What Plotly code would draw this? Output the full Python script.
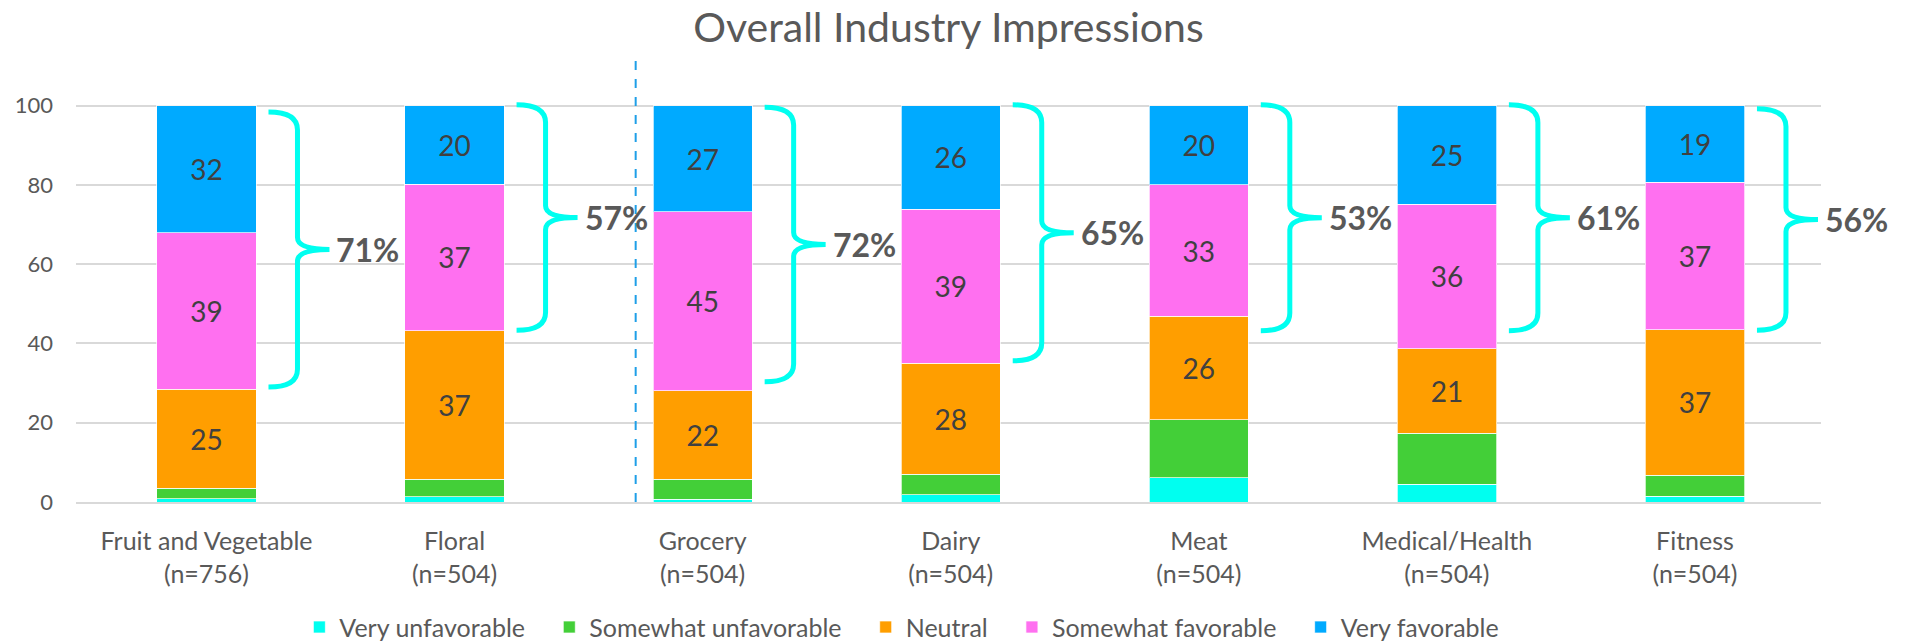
import plotly.graph_objects as go

# ---------------- data ----------------
categories = ["Fruit and Vegetable", "Floral", "Grocery", "Dairy", "Meat", "Medical/Health", "Fitness"]
sample_sizes = [756, 504, 504, 504, 504, 504, 504]

very_unfavorable = [0.8, 1.3, 0.7, 1.8, 6.1, 4.5, 1.5]
somewhat_unfavorable = [2.7, 4.5, 5.0, 5.2, 14.7, 12.8, 5.3]
neutral = [25.0, 37.4, 22.3, 28.0, 26.0, 21.4, 36.6]
somewhat_favorable = [39.4, 37.0, 45.2, 38.8, 33.2, 36.4, 37.3]
very_favorable = [32.1, 19.8, 26.8, 26.2, 20.0, 24.9, 19.3]

favorable_pct_labels = ["71%", "57%", "72%", "65%", "53%", "61%", "56%"]
bracket_high = [98.4, 100.2, 99.6, 100.2, 100.2, 100.2, 99.2]
bracket_low = [29.0, 43.3, 30.3, 35.6, 43.2, 43.2, 43.3]

y_ticks = [0, 20, 40, 60, 80, 100]

# ---------------- styling ----------------
FONT = "Lato"
TXT = "#595959"
GRID = "#D9D9D9"
BRACE = "#00FFF0"
PAD = "\u00a0\u00a0\u00a0"  # extra spacing between legend entries
X_RANGE = [-0.526, 6.508]

series = [
    ("Very unfavorable", very_unfavorable, "#00FFF0", False),
    ("Somewhat unfavorable", somewhat_unfavorable, "#43CF38", False),
    ("Neutral", neutral, "#FF9E00", True),
    ("Somewhat favorable", somewhat_favorable, "#FF70F0", True),
    ("Very favorable", very_favorable, "#00AAFF", True),
]

xs = list(range(len(categories)))
ticktext = [f"{c}<br>(n={n})" for c, n in zip(categories, sample_sizes)]

fig = go.Figure()
for name, vals, color, labelled in series:
    fig.add_trace(go.Bar(
        x=xs, y=vals, name=name + PAD, width=0.4,
        marker=dict(color=color, line=dict(color="rgba(255,255,255,0.7)", width=1)),
        texttemplate="%{y:.0f}" if labelled else "",
        textposition="inside" if labelled else "none",
        insidetextanchor="middle",
        textfont=dict(family=FONT, size=28, color="#404040"),
        hoverinfo="skip",
    ))

# curly brackets for favorable share
XPX = 248.1  # px per category unit (approx, for brace geometry)
shapes = []
annotations = []
for i, (lo, hi, lab) in enumerate(zip(bracket_low, bracket_high, favorable_pct_labels)):
    xa = i + 62 / XPX
    xv = i + 91 / XPX
    xt = i + 123 / XPX
    mid = (lo + hi) / 2
    r = 4.5
    r2 = 3.0
    path = (f"M {xa},{hi} Q {xv},{hi} {xv},{hi - r} L {xv},{mid + r2} "
            f"Q {xv},{mid} {xt},{mid} Q {xv},{mid} {xv},{mid - r2} "
            f"L {xv},{lo + r} Q {xv},{lo} {xa},{lo}")
    shapes.append(dict(type="path", path=path, xref="x", yref="y",
                       line=dict(color=BRACE, width=5), layer="above"))
    x_lab = i + 128 / XPX
    x_paper = (x_lab - X_RANGE[0]) / (X_RANGE[1] - X_RANGE[0])
    annotations.append(dict(x=x_paper, y=mid, xref="paper", yref="y", text=f"<b>{lab}</b>",
                            showarrow=False, xanchor="left", yanchor="middle",
                            font=dict(family=FONT, size=32, color=TXT)))

# dashed divider between Floral and Grocery
div_x = categories.index("Grocery") - 0.27
shapes.append(dict(type="line", x0=div_x, x1=div_x, y0=0, y1=112.7, xref="x", yref="y",
                   line=dict(color="#1E9FE8", width=2, dash="dash"), layer="above"))

fig.update_layout(
    width=1929, height=644,
    barmode="stack",
    plot_bgcolor="white", paper_bgcolor="white",
    margin=dict(l=76, r=108, t=54, b=142),
    font=dict(family=FONT, color=TXT),
    title=dict(text="Overall Industry Impressions", x=0.5, xref="paper", y=1 - 28 / 644,
               yref="container", xanchor="center", yanchor="middle",
               font=dict(family=FONT, size=41, color=TXT)),
    xaxis=dict(range=X_RANGE, tickvals=xs, ticktext=ticktext, showgrid=False,
               showline=True, linecolor=GRID, linewidth=2, ticks="", zeroline=False,
               tickfont=dict(family=FONT, size=25, color=TXT), ticklabelstandoff=16),
    yaxis=dict(range=[0, 113], tickvals=y_ticks, showgrid=True, gridcolor=GRID, gridwidth=2,
               zeroline=False, showline=False, ticks="",
               tickfont=dict(family=FONT, size=22, color=TXT), ticklabelstandoff=22),
    legend=dict(orientation="h", x=0.128, xanchor="left", y=0.026, yref="container",
                yanchor="middle", font=dict(family=FONT, size=25, color=TXT),
                traceorder="normal"),
    shapes=shapes,
    annotations=annotations,
    showlegend=True,
)

fig.write_html("out.html", config={"displayModeBar": False},
               post_script="document.body.style.margin='0';document.body.style.overflow='hidden';")
